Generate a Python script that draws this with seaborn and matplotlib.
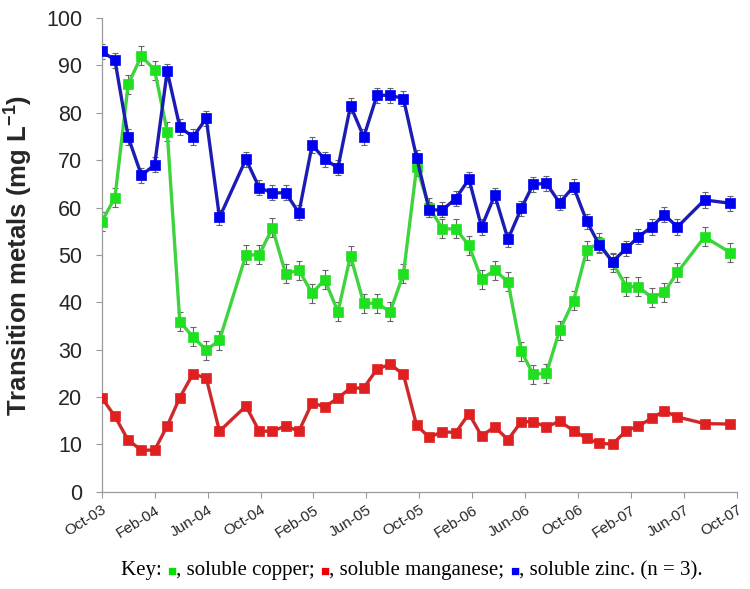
import numpy as np
import pandas as pd
import seaborn as sns
import matplotlib
matplotlib.use("Agg")
import matplotlib.pyplot as plt
from matplotlib.offsetbox import TextArea, HPacker, AnchoredOffsetbox

# ---- data (months since Oct-03) ----
months = [0, 1, 2, 3, 4, 4.95, 5.9, 6.9, 7.9, 8.9, 10.9, 11.9, 12.9, 13.9, 14.9,
          15.9, 16.85, 17.85, 18.8, 19.8, 20.8, 21.8, 22.8, 23.8, 24.75, 25.75,
          26.75, 27.75, 28.7, 29.7, 30.7, 31.7, 32.6, 33.6, 34.6, 35.65, 36.65,
          37.6, 38.6, 39.65, 40.55, 41.55, 42.5, 43.5, 45.55, 47.5]
zinc = [93.0, 91.1, 74.9, 66.8, 69.0, 88.8, 77.0, 74.9, 78.8, 57.9, 70.2, 64.2,
        63.1, 63.1, 58.9, 73.2, 70.2, 68.4, 81.5, 74.9, 83.7, 83.7, 83.0, 70.5,
        59.5, 59.5, 61.9, 66.0, 55.9, 62.6, 53.3, 59.8, 64.9, 65.1, 61.0, 64.4,
        57.1, 52.1, 48.6, 51.4, 53.8, 55.9, 58.5, 55.9, 61.6, 60.9]
copper = [57.0, 62.1, 86.0, 92.0, 89.0, 76.0, 35.9, 32.7, 29.9, 32.0, 50.0, 50.0,
          55.7, 46.0, 46.8, 41.9, 44.8, 38.0, 49.8, 39.8, 39.8, 38.0, 46.0, 68.6,
          60.0, 55.5, 55.5, 52.0, 44.9, 46.8, 44.3, 29.7, 24.8, 25.0, 34.1, 40.3,
          51.0, 52.6, 48.4, 43.3, 43.3, 41.0, 42.1, 46.3, 53.8, 50.5]
manganese = [19.9, 15.9, 10.9, 8.8, 8.8, 13.9, 19.9, 24.9, 24.0, 12.8, 18.1, 12.8,
             12.8, 13.9, 12.8, 18.8, 17.9, 19.8, 21.9, 21.9, 25.9, 26.9, 24.8, 14.0,
             11.5, 12.7, 12.5, 16.5, 11.8, 13.7, 11.0, 14.8, 14.8, 13.7, 14.9, 12.9,
             11.3, 10.2, 10.1, 12.9, 13.9, 15.5, 17.1, 15.8, 14.4, 14.3]
err_zinc = 1.6
err_copper = 2.0
tick_months = [0, 4, 8, 12, 16, 20, 24, 28, 32, 36, 40, 44, 48]
tick_labels = ["Oct-03", "Feb-04", "Jun-04", "Oct-04", "Feb-05", "Jun-05", "Oct-05",
               "Feb-06", "Jun-06", "Oct-06", "Feb-07", "Jun-07", "Oct-07"]

sns.set_style("white")
plt.rcParams['font.family'] = ['Liberation Sans', 'DejaVu Sans']
plt.rcParams['mathtext.fontset'] = 'custom'
plt.rcParams['mathtext.rm'] = 'Liberation Sans'
plt.rcParams['mathtext.bf'] = 'Liberation Sans:bold'
plt.rcParams['mathtext.default'] = 'bf'

fig = plt.figure(figsize=(7.5, 5.89), dpi=100)
ax = fig.add_axes([0.1356, 0.165, 0.847, 0.8044])

series = [
    ("copper", copper, err_copper, "#3fd43f", "#1fe01f"),
    ("manganese", manganese, None, "#cc2a2a", "#e02020"),
    ("zinc", zinc, err_zinc, "#1c1cb4", "#0000f0"),
]
for name, vals, err, lc, mc in series:
    df = pd.DataFrame({"month": months, "value": vals})
    if err is not None:
        ax.errorbar(df["month"], df["value"], yerr=err, fmt="none",
                    ecolor="#666666", elinewidth=0.8, capsize=2.5, capthick=0.8,
                    zorder=1)
    sns.lineplot(data=df, x="month", y="value", ax=ax, color=lc, linewidth=2.4,
                 marker="s", markersize=7.5, markerfacecolor=mc,
                 markeredgecolor=mc, markeredgewidth=0.5, zorder=3)

ax.set_xlim(0, 48)
ax.set_ylim(0, 100)
ax.set_yticks(range(0, 101, 10))
ax.set_xticks(tick_months)
ax.set_xticklabels(tick_labels, rotation=32, ha="right", rotation_mode="anchor",
                   fontsize=11)
ax.tick_params(axis="y", labelsize=15.5, length=4, width=0.8, color="#999999",
               direction="out", left=True, pad=10)
ax.tick_params(axis="x", length=4, width=0.8, color="#999999", direction="out",
               bottom=True, pad=4)
for s in ["top", "right"]:
    ax.spines[s].set_visible(False)
for s in ["left", "bottom"]:
    ax.spines[s].set_color("#999999")
    ax.spines[s].set_linewidth(0.9)
ax.set_xlabel("")
ax.set_ylabel("Transition metals (mg L$^{-1}$)", fontsize=18.5,
              fontweight="bold", labelpad=8)

# caption
cap_font = ['Liberation Serif', 'DejaVu Sans']
parts = [("Key: ", "black", 15), ("\u25a0", "#00e000", 11), (", soluble copper; ", "black", 15),
         ("\u25a0", "#ee0000", 11), (", soluble manganese; ", "black", 15),
         ("\u25a0", "#0000ee", 11), (", soluble zinc. (n = 3).", "black", 15)]
children = [TextArea(t, textprops=dict(color=c, fontsize=fs, family=cap_font))
            for t, c, fs in parts]
box = HPacker(children=children, align="baseline", pad=0, sep=0)
anch = AnchoredOffsetbox(loc="center", child=box, frameon=False,
                         bbox_to_anchor=(0.549, 0.031),
                         bbox_transform=fig.transFigure, borderpad=0, pad=0)
fig.add_artist(anch)

fig.savefig("out.png", dpi=100)
